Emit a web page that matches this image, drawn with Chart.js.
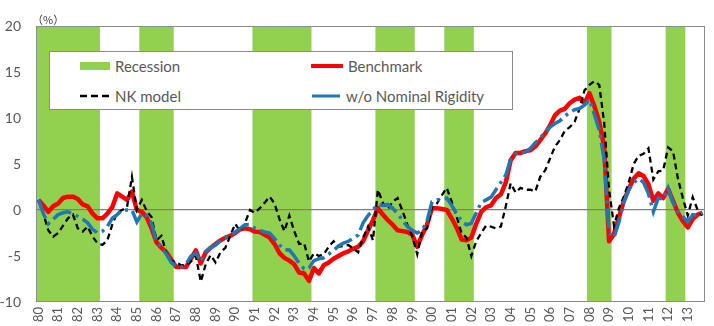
<!DOCTYPE html>
<html>
<head>
<meta charset="utf-8">
<script src="https://cdn.jsdelivr.net/npm/chart.js@4.4.1/dist/chart.umd.min.js"></script>
<style>
  html, body { margin: 0; padding: 0; background: #fff; }
  #wrap { position: relative; width: 714px; height: 326px; font-family: Lato, "Open Sans", sans-serif; }
  #unit { position: absolute; left: 32px; top: 11px; font-size: 11px; color: #404040; font-family: "Noto Sans CJK JP", sans-serif; }
  #legend { position: absolute; left: 49px; top: 51px; width: 464px; height: 59px; background: #fff;
            border: 1px solid #8c8c8c; box-sizing: border-box; }
  .item { position: absolute; display: flex; align-items: center; font-size: 15px; color: #595959; white-space: nowrap; }
  .item svg { margin-right: 5px; }
</style>
</head>
<body>
<div id="wrap">
  <canvas id="chart" width="714" height="326"></canvas>
  <div id="unit">（%）</div>
  <div id="legend">
    <div class="item" style="left:30px; top:5px;">
      <svg width="30" height="10"><rect x="0" y="1" width="30" height="8" fill="#92d050"/></svg>Recession</div>
    <div class="item" style="left:261px; top:5px;">
      <svg width="32" height="10"><line x1="1" y1="5" x2="31" y2="5" stroke="#ff0000" stroke-width="4" stroke-linecap="round"/></svg>Benchmark</div>
    <div class="item" style="left:30px; top:35px;">
      <svg width="30" height="10"><line x1="0" y1="5" x2="30" y2="5" stroke="#000" stroke-width="2.5" stroke-dasharray="7,4"/></svg>NK model</div>
    <div class="item" style="left:261px; top:35px;">
      <svg width="30" height="10"><line x1="1" y1="5" x2="29" y2="5" stroke="#1f77b4" stroke-width="3"/></svg>w/o Nominal Rigidity</div>
  </div>
</div>
<script>
// quarterly data 1980Q1 - 2013Q4, output gap (%)
const years = [1980, 1981, 1982, 1983, 1984, 1985, 1986, 1987, 1988, 1989, 1990, 1991,
  1992, 1993, 1994, 1995, 1996, 1997, 1998, 1999, 2000, 2001, 2002, 2003, 2004, 2005,
  2006, 2007, 2008, 2009, 2010, 2011, 2012, 2013];
const quarters = years.flatMap(y => ['Q1', 'Q2', 'Q3', 'Q4'].map(q => y + q));

const benchmark = [
  1.1, 0.5, -0.2, 0.4,    0.7, 1.3, 1.45, 1.45,   1.2, 0.6, 0.4, -0.4,   -0.9, -0.9, -0.4, 0.3,
  1.8, 1.45, 1.1, 2.0,    0.0, -0.2, -0.8, -2.0,  -3.5, -4.1, -4.6, -5.4, -6.2, -6.2, -6.2, -5.3,
  -4.4, -5.8, -4.6, -4.1, -3.7, -3.3, -3.0, -2.8, -2.5, -2.1, -2.0, -2.1, -2.35, -2.4, -2.7, -3.0,
  -3.7, -4.7, -5.2, -5.5, -5.9, -6.8, -6.9, -7.7, -6.3, -6.9, -6.0, -5.7, -5.3, -5.0, -4.7, -4.5,
  -4.2, -4.0, -3.4, -2.2, -1.1, 0.2, -0.5, -1.1,  -1.6, -2.2, -2.3, -2.4, -2.7, -4.0, -2.7, -1.6,
  0.2, 0.2, 0.1, 0.0,     -0.9, -1.9, -3.2, -3.3, -3.0, -1.5, -0.2, 0.3,  0.5, 1.3, 1.7, 3.0,
  5.4, 6.2, 6.2, 6.4,     6.5, 6.9, 7.6, 8.3,     9.2, 10.3, 10.8, 11.0,  11.6, 12.0, 12.2, 11.6,
  12.7, 11.3, 9.6, 6.9,   -3.4, -2.6, -0.8, 1.0,  2.3, 3.4, 4.0, 3.7,     2.8, 1.0, 1.8, 1.3,
  2.3, 1.0, -0.3, -1.2,   -1.9, -1.0, -0.5, -0.3
];
const nkModel = [
  1.1, -0.4, -2.2, -2.9,  -2.5, -1.7, -0.9, -0.5, -2.0, -2.35, -1.8, -2.9, -3.6, -3.8, -3.3, -1.6,
  -0.3, 0.0, 0.3, 3.6,    0.0, 1.1, -0.1, -0.8,   -3.3, -2.8, -4.7, -5.5, -5.7, -6.0, -6.0, -5.6,
  -5.0, -7.8, -5.9, -4.9, -5.7, -4.6, -4.1, -2.8, -1.5, -2.3, -1.4, 0.0,  -0.3, 0.2, 0.8, 1.45,
  0.7, -1.0, -2.3, -0.6,  -2.3, -3.7, -3.6, -5.6, -4.7, -5.0, -4.8, -4.0, -3.4, -4.0, -3.9, -3.8,
  -4.2, -4.6, -3.0, -1.8, -3.3, 2.2, 0.8, 0.1,    0.9, 1.3, -0.1, -1.6,   -2.9, -4.8, -2.3, -2.0,
  0.3, 0.7, 1.6, 2.4,     0.9, -0.7, -2.5, -3.0,  -5.0, -3.4, -2.5, -1.7, -1.8, -2.0, -1.8, 0.4,
  2.9, 1.9, 2.4, 2.2,     2.2, 2.0, 3.6, 4.3,     5.6, 6.9, 7.6, 8.6,     9.0, 9.6, 11.0, 13.0,
  13.6, 14.0, 13.6, 9.5,  2.2, -1.7, 0.2, 1.45,   3.0, 5.0, 5.9, 6.1,     6.7, 3.3, 4.2, 4.3,
  6.8, 6.4, 3.4, 1.3,     -0.6, 1.4, 0.0, -0.6
];
const noRigidity = [
  1.1, -0.4, -1.5, -1.0,  -0.5, -0.3, -0.2, -0.4, -0.7, -1.0, -1.4, -2.1, -2.5, -2.3, -1.8, -0.9,
  -0.5, 0.0, 0.0, 0.0,    -1.3, -0.4, -0.6, -1.5, -3.5, -4.0, -4.8, -5.7, -6.1, -6.2, -5.9, -5.0,
  -4.7, -5.6, -4.5, -4.1, -3.8, -3.3, -3.0, -2.7, -2.4, -2.0, -1.6, -1.6, -2.0, -2.2, -2.4, -2.5,
  -3.1, -3.8, -4.3, -4.35, -5.0, -5.8, -6.4, -6.3, -5.5, -5.3, -5.2, -4.8, -4.4, -3.9, -3.6, -3.4,
  -3.1, -2.7, -1.4, -0.6, 0.0, 0.6, 0.5, 0.6,     0.2, -0.4, -1.1, -1.8,  -2.2, -2.5, -2.2, -1.2,
  0.9, 1.1, 1.2, 1.3,     0.5, -0.4, -1.2, -1.6,  -1.45, -0.3, 0.8, 1.1,  1.4, 2.2, 3.0, 3.8,
  5.5, 6.1, 6.2, 6.3,     6.7, 7.3, 7.8, 8.5,     9.0, 9.4, 9.7, 10.2,    10.6, 10.9, 11.05, 11.4,
  12.0, 10.4, 8.7, 5.5,   -2.5, -3.0, -1.3, 0.9,  2.2, 3.0, 3.4, 3.0,     1.8, -0.2, 1.3, 1.2,
  2.4, 0.8, -0.2, -0.7,   -1.3, -0.5, -0.6, -0.3
];

// recession periods (first and last quarter)
const recStart = ['1980Q1', '1985Q2', '1991Q1', '1997Q2', '2000Q4', '2008Q1', '2012Q1'];
const recEnd   = ['1983Q1', '1986Q4', '1993Q4', '1999Q1', '2002Q1', '2009Q1', '2012Q4'];

const yTicks = [-10, -5, 0, 5, 10, 15, 20];

const recessionBands = {
  id: 'recessionBands',
  beforeDraw(chart) {
    const { ctx, chartArea: a, scales: { x } } = chart;
    const half = (x.getPixelForValue(1) - x.getPixelForValue(0)) / 2;
    ctx.save();
    ctx.fillStyle = '#92d050';
    recStart.forEach((s, i) => {
      const x0 = x.getPixelForValue(quarters.indexOf(s)) - half;
      const x1 = x.getPixelForValue(quarters.indexOf(recEnd[i])) + half;
      ctx.fillRect(x0, a.top, x1 - x0, a.bottom - a.top);
    });
    ctx.restore();
  },
  beforeDatasetsDraw(chart) {
    const { ctx, chartArea: a } = chart;
    ctx.save();
    ctx.strokeStyle = '#8c8c8c';
    ctx.lineWidth = 1;
    ctx.strokeRect(Math.round(a.left) + 0.5, Math.round(a.top) + 0.5,
      Math.round(a.right - a.left) - 1, Math.round(a.bottom - a.top) - 1);
    ctx.restore();
  }
};

new Chart(document.getElementById('chart'), {
  type: 'line',
  data: {
    labels: quarters,
    datasets: [
      { label: 'w/o Nominal Rigidity', data: noRigidity, borderColor: '#1f77b4', borderWidth: 3.5,
        borderDash: [20, 5, 3, 5], order: 1 },
      { label: 'NK model', data: nkModel, borderColor: '#000000', borderWidth: 2.3,
        borderDash: [6, 4], order: 2 },
      { label: 'Benchmark', data: benchmark, borderColor: '#ff0000', borderWidth: 4.5,
        borderJoinStyle: 'round', order: 3 }
    ]
  },
  options: {
    responsive: false,
    animation: false,
    layout: { padding: { top: 26, right: 9, left: 0, bottom: 0 } },
    elements: { point: { radius: 0 }, line: { tension: 0, fill: false } },
    plugins: { legend: { display: false }, tooltip: { enabled: false } },
    scales: {
      x: {
        type: 'category',
        offset: true,
        afterFit: s => { s.height = 24; },
        afterBuildTicks: s => { s.ticks = s.ticks.filter(t => t.value % 4 === 0); },
        grid: { display: false, drawTicks: false },
        border: { display: false },
        ticks: {
          autoSkip: false, minRotation: 90, maxRotation: 90, padding: 5,
          color: '#595959', font: { family: 'Lato', size: 13 },
          callback: v => String(quarters[v]).slice(2, 4)
        }
      },
      y: {
        min: -10, max: 20,
        afterFit: s => { s.width = 36; },
        afterBuildTicks: s => { s.ticks = yTicks.map(v => ({ value: v })); },
        grid: {
          drawTicks: false,
          color: c => (c.tick && c.tick.value === 0 ? '#7f7f7f' : 'rgba(0,0,0,0)'),
          lineWidth: 1.2
        },
        border: { display: true, color: '#8c8c8c' },
        ticks: { padding: 15, color: '#595959', font: { family: 'Lato', size: 14 } }
      }
    }
  },
  plugins: [recessionBands]
});
</script>
</body>
</html>
